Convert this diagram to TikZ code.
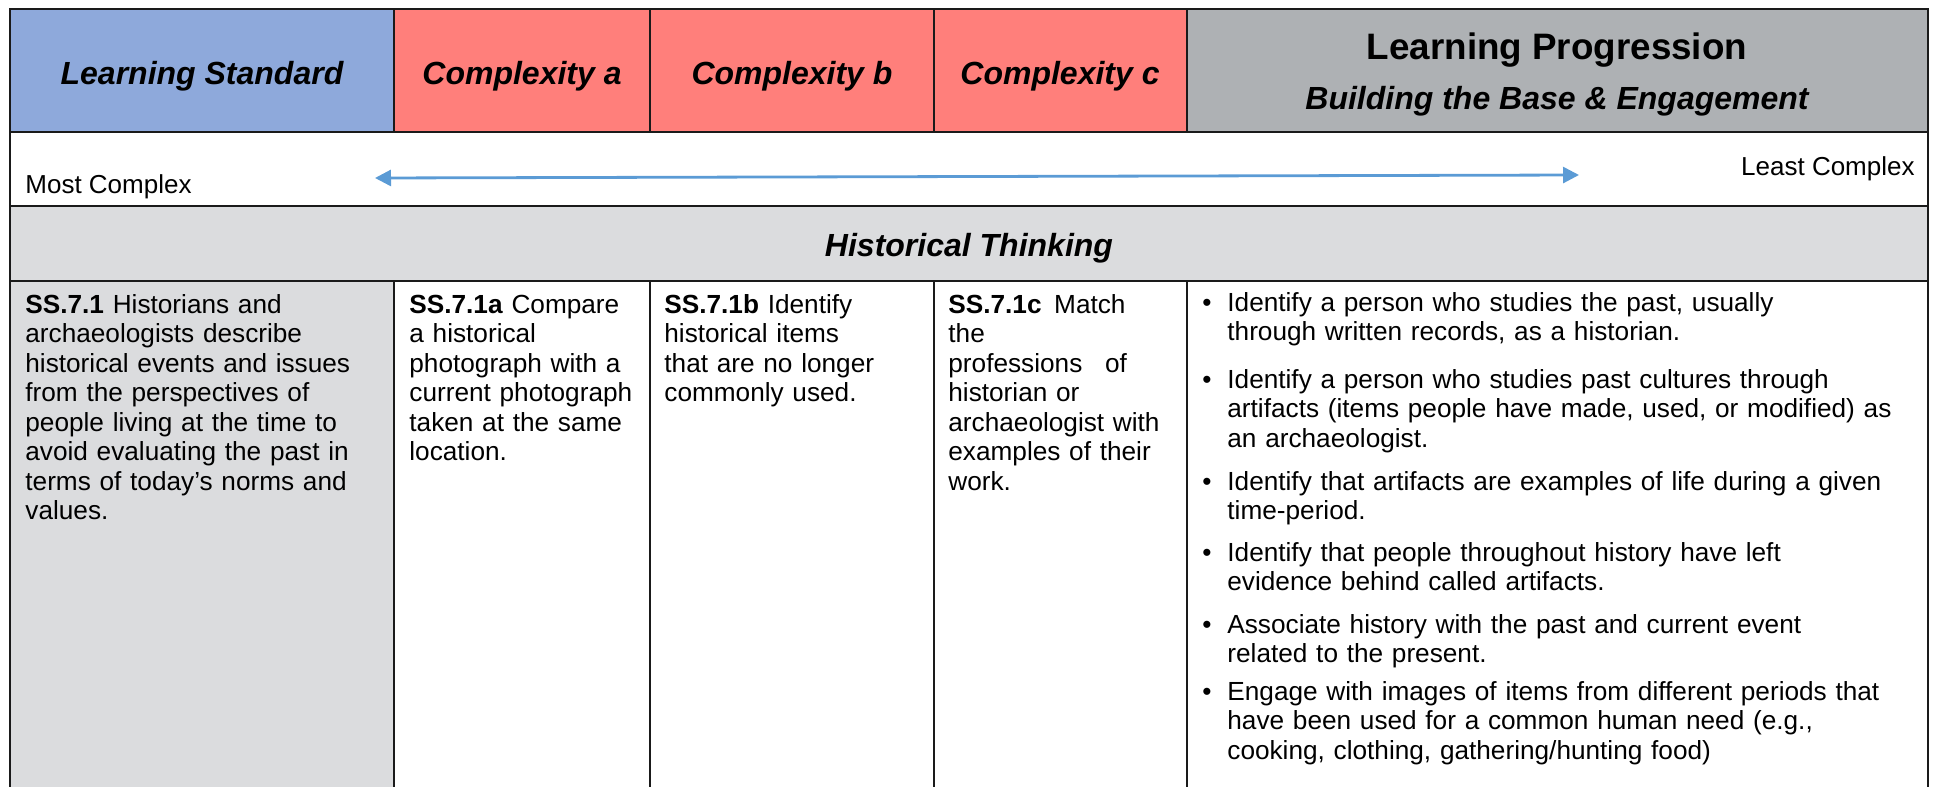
\documentclass[tikz,border=0pt]{standalone}
\usepackage{fontspec}
\setmainfont{Liberation Sans}
\usetikzlibrary{arrows.meta}
\definecolor{stdblue}{HTML}{8EA9DB}
\definecolor{cxred}{HTML}{FF7F7B}
\definecolor{lpgray}{HTML}{AEB1B4}
\definecolor{ltgray}{HTML}{DBDCDE}
\definecolor{arrowblue}{HTML}{5B9BD5}
\definecolor{rulecol}{HTML}{1A1A1A}
\begin{document}
\begin{tikzpicture}[x=0.5pt,y=-0.5pt,
  hdr/.style={font=\fontsize{16pt}{18pt}\selectfont\bfseries\itshape, inner sep=0pt, anchor=base},
  lphdr/.style={font=\fontsize{18.4pt}{20pt}\selectfont\bfseries, inner sep=0pt, anchor=base},
  small/.style={font=\fontsize{13pt}{15pt}\selectfont, inner sep=0pt},
  bodytext/.style={font=\fontsize{13.1pt}{14.75pt}\selectfont, inner sep=0pt, anchor=base west, align=left},
  bultext/.style={font=\fontsize{13.1pt}{14.8pt}\selectfont, inner sep=0pt, anchor=base west, align=left, text width=350pt},
  buldot/.style={font=\fontsize{13.1pt}{14.8pt}\selectfont, inner sep=0pt, anchor=base},
  outerrule/.style={draw=rulecol, line width=1.3pt},
  hrule/.style={draw=rulecol, line width=1.1pt},
  vrule/.style={draw=rulecol, line width=0.8pt},
  rangearrow/.style={draw=arrowblue, line width=1.4pt, {Triangle[length=8pt,width=8pt]}-{Triangle[length=8pt,width=8pt]}}
]
\useasboundingbox (0,0) rectangle (1933,787);
% fills
\fill[stdblue] (10,9) rectangle (394,132);
\fill[cxred] (394,9) rectangle (1187,132);
\fill[lpgray] (1187,9) rectangle (1928,132);
\fill[ltgray] (10,206) rectangle (1928,281);
\fill[ltgray] (10,281) rectangle (394,787);
% horizontal rules
\draw[hrule] (10,132) -- (1928,132);
\draw[hrule] (10,206) -- (1928,206);
\draw[hrule] (10,281) -- (1928,281);
% vertical rules
\foreach \xx in {394,650,934,1187}{
  \draw[vrule] (\xx,9) -- (\xx,132);
  \draw[vrule] (\xx,281) -- (\xx,787);
}
% outer border
\draw[outerrule] (10,787) -- (10,9) -- (1928,9) -- (1928,787);

% header texts
\node[hdr] (hstd) at (202,84) {Learning Standard};
\node[hdr] (hca) at (522,84) {Complexity a};
\node[hdr] (hcb) at (792,84) {Complexity b};
\node[hdr] (hcc) at (1060,84) {Complexity c};
\node[lphdr] (hlp) at (1557,59) {Learning Progression};
\node[hdr] (hlpsub) at (1557,109) {Building the Base \& Engagement};

% arrow row
\node[small, anchor=base west] (most) at (25,193) {Most Complex};
\node[small, anchor=base east] (least) at (1915,175) {Least Complex};
\coordinate (arrL) at (375,178);
\coordinate (arrR) at (1579,175);
\draw[rangearrow] (arrL) -- (arrR);

% section row
\node[hdr] (hist) at (969,256) {Historical Thinking};

% body cells
\node[bodytext, text width=180pt] (c1) at (25,313) {\textbf{SS.7.1} Historians and\\archaeologists describe\\historical events and issues\\from the perspectives of\\people living at the time to\\avoid evaluating the past in\\terms of today’s norms and\\values.};
\node[bodytext, text width=118pt] (c2) at (409,313) {\textbf{SS.7.1a} Compare\\a historical\\photograph with a\\current photograph\\taken at the same\\location.};
\node[bodytext, text width=132pt] (c3) at (664,313) {\textbf{SS.7.1b} Identify\\historical items\\that are no longer\\commonly used.};
\node[bodytext, text width=120pt] (c4) at (948,313) {\textbf{SS.7.1c}\hspace{0.48em}Match\\the\\professions\hspace{0.87em}of\\historian or\\archaeologist with\\examples of their\\work.};

% bullets
\node[buldot] (d1) at (1207,311) {•};
\node[bultext] (b1) at (1227,311) {Identify a person who studies the past, usually\\through written records, as a historian.};
\node[buldot] (d2) at (1207,388) {•};
\node[bultext] (b2) at (1227,388) {Identify a person who studies past cultures through\\artifacts (items people have made, used, or modified) as\\an archaeologist.};
\node[buldot] (d3) at (1207,490) {•};
\node[bultext] (b3) at (1227,490) {Identify that artifacts are examples of life during a given\\time-period.};
\node[buldot] (d4) at (1207,561) {•};
\node[bultext] (b4) at (1227,561) {Identify that people throughout history have left\\evidence behind called artifacts.};
\node[buldot] (d5) at (1207,633) {•};
\node[bultext] (b5) at (1227,633) {Associate history with the past and current event\\related to the present.};
\node[buldot] (d6) at (1207,700) {•};
\node[bultext] (b6) at (1227,700) {Engage with images of items from different periods that\\have been used for a common human need (e.g.,\\cooking, clothing, gathering/hunting food)};
\end{tikzpicture}
\end{document}
